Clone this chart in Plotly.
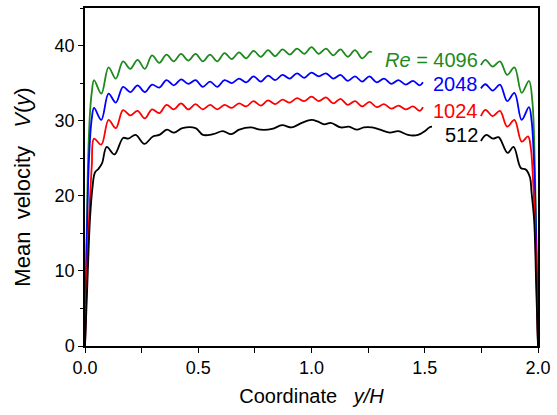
import plotly.graph_objects as go

# ---------------- data ----------------
# Re = 4096 (green)
x_4096 = [0.0, 0.006, 0.013, 0.022, 0.030, 0.040, 0.072, 0.104, 0.136, 0.168, 0.200, 0.232,
          0.264, 0.296, 0.328, 0.360, 0.392, 0.424, 0.456, 0.488, 0.520, 0.552, 0.584, 0.616,
          0.648, 0.680, 0.712, 0.744, 0.776, 0.808, 0.840, 0.872, 0.904, 0.936, 0.968, 1.000,
          1.032, 1.064, 1.096, 1.128, 1.160, 1.192, 1.224, 1.256, 1.266,
          None,
          1.748, 1.768, 1.800, 1.832, 1.864, 1.896, 1.928, 1.960, 1.975, 1.986, 1.994, 2.0]
v_4096 = [0.0, 12.0, 24.0, 31.0, 33.8, 35.4, 33.6, 37.1, 35.6, 37.9, 36.9, 38.1,
          36.9, 38.7, 37.7, 38.8, 37.9, 38.9, 38.0, 38.9, 37.9, 38.8, 37.9, 39.0,
          38.2, 39.1, 38.3, 39.3, 38.5, 39.4, 38.6, 39.5, 38.8, 39.6, 38.9, 39.8,
          38.9, 39.6, 38.7, 39.5, 38.5, 39.4, 38.3, 39.2, 39.1,
          None,
          37.4, 38.1, 37.2, 37.9, 36.1, 37.1, 33.7, 35.3, 32.6, 24.0, 12.0, 0.0]

# Re = 2048 (blue)
x_2048 = [0.0, 0.006, 0.013, 0.022, 0.030, 0.040, 0.072, 0.104, 0.136, 0.168, 0.200, 0.232,
          0.264, 0.296, 0.328, 0.360, 0.392, 0.424, 0.456, 0.488, 0.520, 0.552, 0.584, 0.616,
          0.648, 0.680, 0.712, 0.744, 0.776, 0.808, 0.840, 0.872, 0.904, 0.936, 0.968, 1.000,
          1.032, 1.064, 1.096, 1.128, 1.160, 1.192, 1.224, 1.256, 1.288, 1.320, 1.352, 1.384,
          1.416, 1.448, 1.478, 1.492,
          None,
          1.748, 1.768, 1.800, 1.832, 1.864, 1.896, 1.928, 1.960, 1.972, 1.983, 1.992, 2.0]
v_2048 = [0.0, 11.0, 21.0, 27.5, 30.3, 31.7, 30.1, 33.6, 32.4, 34.5, 33.8, 34.7,
          33.8, 34.8, 34.4, 35.4, 34.7, 35.5, 34.9, 35.4, 34.5, 35.2, 34.5, 35.4,
          35.0, 35.6, 35.1, 35.9, 35.2, 36.0, 35.4, 36.1, 35.6, 36.3, 35.7, 36.4,
          35.9, 36.3, 35.6, 36.1, 35.3, 35.9, 35.2, 35.9, 35.1, 35.6, 34.9, 35.4,
          34.8, 35.3, 34.7, 35.1,
          None,
          34.3, 34.85, 34.0, 34.8, 32.6, 33.7, 30.1, 31.8, 29.9, 24.0, 14.0, 0.0]

# Re = 1024 (red)
x_1024 = [0.0, 0.007, 0.015, 0.022, 0.030, 0.040, 0.072, 0.104, 0.136, 0.168, 0.200, 0.232,
          0.264, 0.296, 0.328, 0.360, 0.392, 0.424, 0.456, 0.488, 0.520, 0.552, 0.584, 0.616,
          0.648, 0.680, 0.712, 0.744, 0.776, 0.808, 0.840, 0.872, 0.904, 0.936, 0.968, 1.000,
          1.032, 1.064, 1.096, 1.128, 1.160, 1.192, 1.224, 1.256, 1.288, 1.320, 1.352, 1.384,
          1.416, 1.448, 1.478, 1.492,
          None,
          1.748, 1.768, 1.800, 1.832, 1.864, 1.896, 1.928, 1.956, 1.968, 1.980, 1.990, 2.0]
v_1024 = [0.0, 8.0, 15.0, 19.5, 24.0, 27.6, 26.8, 30.1, 29.0, 31.4, 30.7, 31.3,
          30.3, 31.5, 31.0, 32.1, 31.5, 32.3, 31.5, 32.2, 31.5, 32.1, 31.5, 32.1,
          31.7, 32.3, 31.9, 32.6, 32.0, 32.7, 32.2, 32.8, 32.4, 33.0, 32.6, 33.2,
          32.6, 33.1, 32.3, 32.9, 32.1, 32.6, 31.9, 32.5, 31.8, 32.2, 31.6, 32.0,
          31.5, 31.9, 31.3, 31.8,
          None,
          30.6, 31.45, 30.6, 31.3, 29.2, 30.1, 27.2, 27.9, 26.4, 21.0, 13.0, 0.0]

# Re = 512 (black)
x_512 = [0.0, 0.010, 0.022, 0.033, 0.044, 0.060, 0.075, 0.096, 0.130, 0.168, 0.190, 0.224,
         0.262, 0.300, 0.328, 0.362, 0.393, 0.430, 0.488, 0.521, 0.565, 0.609, 0.645, 0.681,
         0.732, 0.775, 0.826, 0.870, 0.913, 0.957, 1.000, 1.027, 1.056, 1.085, 1.129, 1.165,
         1.201, 1.231, 1.267, 1.303, 1.346, 1.383, 1.426, 1.470, 1.500, 1.520, 1.532,
         None,
         1.748, 1.772, 1.801, 1.826, 1.866, 1.892, 1.924, 1.946, 1.965, 1.971, 1.983, 1.992, 2.0]
v_512 = [0.0, 8.0, 16.9, 21.1, 23.1, 23.6, 24.3, 26.5, 25.5, 27.7, 27.6, 28.1,
         26.9, 27.9, 28.1, 28.8, 28.4, 29.0, 29.0, 28.1, 28.2, 28.6, 28.2, 28.8,
         29.1, 28.8, 28.9, 29.4, 29.1, 29.7, 30.1, 29.9, 29.5, 29.7, 29.1, 29.2,
         28.8, 29.1, 29.1, 28.8, 28.4, 28.6, 28.1, 28.1, 28.6, 29.1, 29.2,
         None,
         27.3, 28.1, 27.6, 27.8, 25.7, 26.5, 23.7, 23.5, 22.4, 20.6, 16.7, 8.0, 0.0]

series_labels = ["<i>Re</i> = 4096", "2048", "1024", "512"]
label_y = [38.1, 34.85, 31.3, 28.1]
label_x = 1.745
colors = ["#1e8a1e", "#0000ff", "#ff0000", "#000000"]

x_ticks_major = [0.0, 0.5, 1.0, 1.5, 2.0]
y_ticks_major = [0, 10, 20, 30, 40]

# ---------------- figure ----------------
FONT = "Liberation Sans, Arial, Helvetica, sans-serif"
fig = go.Figure()
for xs, vs, col in zip([x_4096, x_2048, x_1024, x_512],
                       [v_4096, v_2048, v_1024, v_512], colors):
    fig.add_trace(go.Scatter(x=xs, y=vs, mode="lines",
                             line=dict(color=col, width=1.8, shape="spline", smoothing=1.0),
                             connectgaps=False, showlegend=False, hoverinfo="skip"))

for txt, yy, col in zip(series_labels, label_y, colors):
    fig.add_annotation(x=label_x, y=yy, xref="x", yref="y", text=txt, showarrow=False,
                       xanchor="right", yanchor="middle",
                       font=dict(family=FONT, size=20, color=col))

# y-axis title (rotated text, slightly below the plot centre as in the reference)
fig.add_annotation(x=-0.138, y=0.47, xref="paper", yref="paper",
                   text="Mean\u00a0\u00a0velocity\u00a0\u00a0\u00a0<i>V</i>(<i>y</i>)",
                   textangle=-90, showarrow=False, xanchor="center", yanchor="middle",
                   font=dict(family=FONT, size=22, color="black"))

fig.update_layout(
    width=557, height=415,
    margin=dict(l=85, r=13, t=6, b=69),
    paper_bgcolor="white", plot_bgcolor="white",
    font=dict(family=FONT, color="black", size=18),
    xaxis=dict(range=[0, 2], tickvals=x_ticks_major, tickformat=".1f",
               ticks="outside", ticklen=5, tickwidth=1.2, tickcolor="black",
               minor=dict(dtick=0.25, ticks="outside", ticklen=5, tickwidth=1.2, tickcolor="black"),
               showline=True, linecolor="black", linewidth=1.5, mirror=True,
               showgrid=False, zeroline=False,
               tickfont=dict(size=18),
               title=dict(text="Coordinate\u00a0\u00a0\u00a0<i>y/H</i>", font=dict(size=20), standoff=12)),
    yaxis=dict(range=[0, 45], tickvals=y_ticks_major,
               ticks="outside", ticklen=5, tickwidth=1.2, tickcolor="black",
               minor=dict(dtick=5, ticks="outside", ticklen=3, tickwidth=1.2, tickcolor="black"),
               showline=True, linecolor="black", linewidth=1.5, mirror=True,
               showgrid=False, zeroline=False,
               tickfont=dict(size=18)),
    xaxis2=dict(overlaying="x", side="top", anchor="y", range=[0, 2], dtick=0.25, tick0=0,
                ticks="inside", ticklen=5, tickwidth=1.2, tickcolor="black",
                showticklabels=False, showgrid=False, zeroline=False, showline=False),
    yaxis2=dict(overlaying="y", side="right", anchor="x", range=[0, 45], dtick=5, tick0=0,
                ticks="inside", ticklen=5, tickwidth=1.2, tickcolor="black",
                showticklabels=False, showgrid=False, zeroline=False, showline=False),
)

fig.write_html("out.html")
